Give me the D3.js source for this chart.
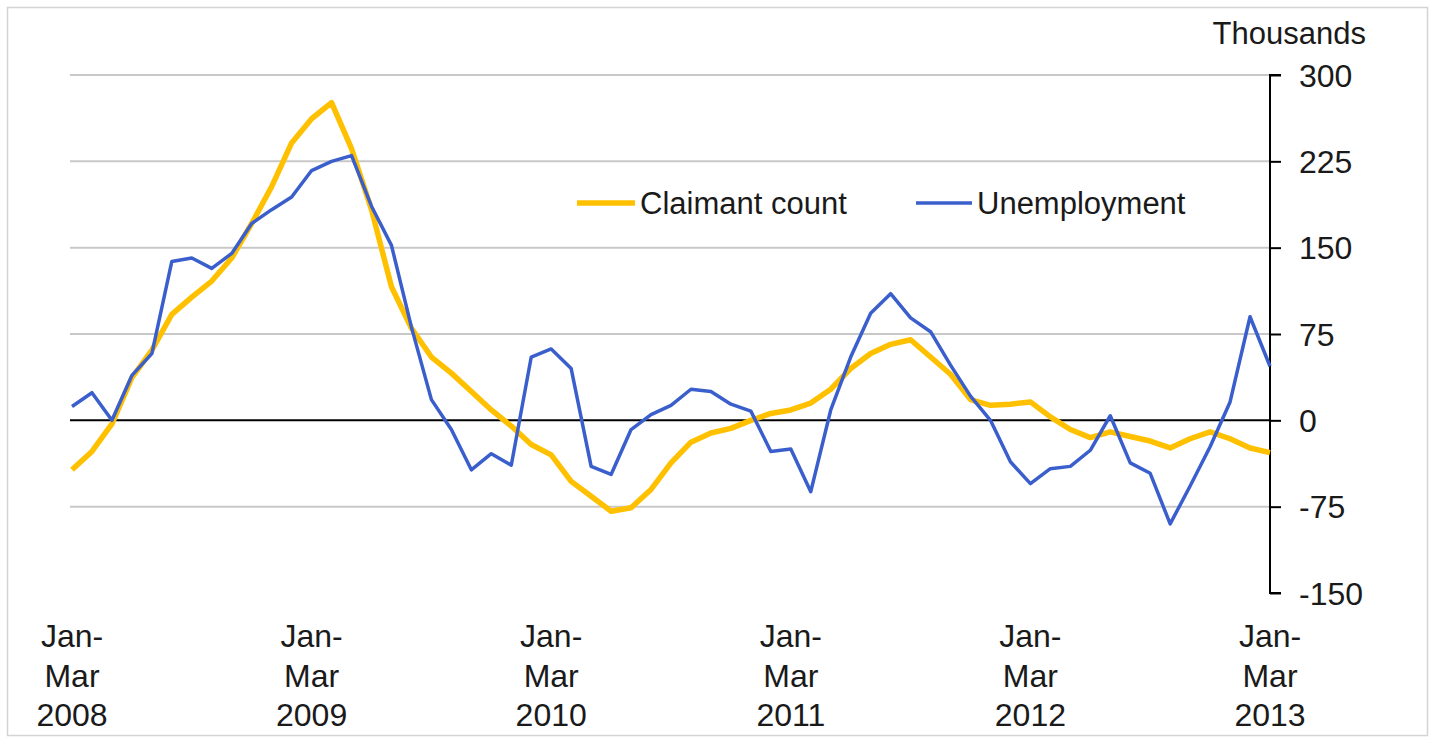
<!DOCTYPE html>
<html>
<head>
<meta charset="utf-8">
<script src="https://cdn.jsdelivr.net/npm/d3@7"></script>
<style>
  html, body { margin: 0; padding: 0; background: #fff; }
  svg { display: block; }
  text { font-family: "Liberation Sans", Arial, sans-serif; fill: #1a1a1a; }
</style>
</head>
<body>
<svg id="chart" width="1433" height="739"></svg>
<script>
// ---- Data (thousands, 3-month rolling, Jan-Mar 2008 .. Jan-Mar 2013) ----
const claimantCount = [
  -43, -27, -3, 37, 61, 92, 107, 121, 141, 171, 203, 241, 262,
  276, 236, 183, 116, 80, 55, 41, 25, 9, -5, -21, -30,
  -53, -66, -79, -76, -60, -37, -19, -11, -7, 0, 6, 9,
  15, 27, 45, 58, 66, 70, 55, 40, 18, 13, 14, 16,
  3, -8, -15, -10, -14, -18, -24, -16, -10, -16, -24, -28
];
const unemployment = [
  12, 24, 0, 39, 58, 138, 141, 132, 145, 171, 183, 194, 217,
  225, 230, 186, 152, 81, 18, -8, -43, -29, -39, 55, 62,
  45, -40, -47, -8, 5, 13, 27, 25, 14, 8, -27, -25,
  -62, 9, 55, 93, 110, 89, 77, 48, 21, 0, -36, -55,
  -42, -40, -26, 4, -37, -46, -90, -57, -23, 16, 90, 47
];
const xTickIndex = [0, 12, 24, 36, 48, 60];
const xTickLabels = [
  ["Jan-", "Mar", "2008"], ["Jan-", "Mar", "2009"], ["Jan-", "Mar", "2010"],
  ["Jan-", "Mar", "2011"], ["Jan-", "Mar", "2012"], ["Jan-", "Mar", "2013"]
];
const yTicks = [-150, -75, 0, 75, 150, 225, 300];
const seriesNames = ["Claimant count", "Unemployment"];
const seriesColors = ["#FFC000", "#3A5FCD"];

// ---- Layout ----
const svg = d3.select("#chart");
const plotLeft = 72, plotRight = 1270, plotTop = 75, plotBottom = 593;

svg.append("rect")
  .attr("x", 7.5).attr("y", 7.5).attr("width", 1420).attr("height", 728)
  .attr("fill", "#fff").attr("stroke", "#d4d4d4").attr("stroke-width", 1.5);

const x = d3.scaleLinear().domain([0, claimantCount.length - 1]).range([plotLeft, plotRight]);
const y = d3.scaleLinear().domain([-150, 300]).range([plotBottom, plotTop]);

// gridlines
svg.append("g").selectAll("line")
  .data(yTicks.filter(t => t !== 0 && t !== -150))
  .join("line")
  .attr("x1", 70).attr("x2", plotRight)
  .attr("y1", d => y(d)).attr("y2", d => y(d))
  .attr("stroke", "#c8c8c8").attr("stroke-width", 2);

// zero line
svg.append("line")
  .attr("x1", 70).attr("x2", plotRight)
  .attr("y1", y(0)).attr("y2", y(0))
  .attr("stroke", "#000").attr("stroke-width", 2);

// right y axis
const yAxis = d3.axisRight(y).tickValues(yTicks).tickSize(11).tickPadding(18)
  .tickFormat(d => String(d));
const gy = svg.append("g").attr("transform", `translate(${plotRight},0)`).call(yAxis);
gy.select(".domain").attr("stroke", "#000").attr("stroke-width", 2)
  .attr("d", `M11,${plotTop}H0V${plotBottom}H11`);
gy.selectAll(".tick line").attr("stroke", "#000").attr("stroke-width", 2);
gy.selectAll(".tick text")
  .attr("font-family", "'Liberation Sans', Arial, sans-serif")
  .attr("font-size", 32).attr("fill", "#1a1a1a").attr("dy", "0.35em");

svg.append("text")
  .attr("x", 1366).attr("y", 44).attr("text-anchor", "end")
  .attr("font-size", 31).text("Thousands");

// x labels
const xl = svg.append("g").selectAll("text")
  .data(xTickIndex)
  .join("text")
  .attr("x", d => x(d))
  .attr("text-anchor", "middle")
  .attr("font-size", 32);
xl.each(function(d, i) {
  const t = d3.select(this);
  xTickLabels[i].forEach((s, k) => {
    t.append("tspan").attr("x", x(d)).attr("y", 647 + k * 39.5).text(s);
  });
});

// lines
const line = d3.line().x((d, i) => x(i)).y(d => y(d));
svg.append("path").datum(claimantCount)
  .attr("d", line).attr("fill", "none")
  .attr("stroke", seriesColors[0]).attr("stroke-width", 5.5)
  .attr("stroke-linejoin", "round");
svg.append("path").datum(unemployment)
  .attr("d", line).attr("fill", "none")
  .attr("stroke", seriesColors[1]).attr("stroke-width", 3.5)
  .attr("stroke-linejoin", "round");

// legend
const legendItems = [
  { x1: 577, x2: 635, tx: 640, w: 5.5 },
  { x1: 916, x2: 972, tx: 977, w: 3.5 }
];
const lg = svg.append("g");
legendItems.forEach((it, i) => {
  lg.append("line").attr("x1", it.x1).attr("x2", it.x2)
    .attr("y1", 203).attr("y2", 203)
    .attr("stroke", seriesColors[i]).attr("stroke-width", it.w);
  lg.append("text").attr("x", it.tx).attr("y", 214)
    .attr("font-size", 31).text(seriesNames[i]);
});
</script>
</body>
</html>
